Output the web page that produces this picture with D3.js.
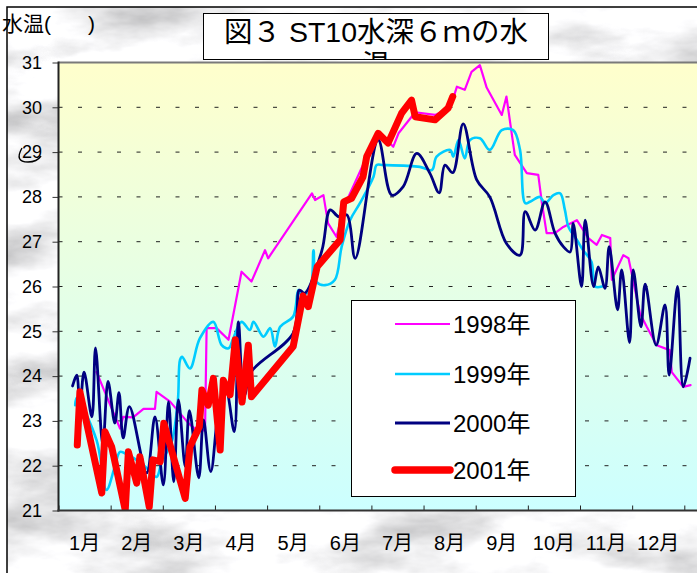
<!DOCTYPE html>
<html>
<head>
<meta charset="utf-8">
<script src="https://cdn.jsdelivr.net/npm/d3@7"></script>
<style>
  body { margin: 0; background: #fff; }
  svg { display: block; font-family: "Liberation Sans", "Noto Sans CJK JP", sans-serif; }
</style>
</head>
<body>
<div class="div-chart"></div>
<script>
// category labels and axis ticks
const months = ["1月", "2月", "3月", "4月", "5月", "6月", "7月", "8月", "9月", "10月", "11月", "12月"];
const yTicks = [21, 22, 23, 24, 25, 26, 27, 28, 29, 30, 31];
const years = ["1998年", "1999年", "2000年", "2001年"];

// [month position (0 = start of Jan), water temperature]
const s1998 = [[0.73,24.09],[1.18,22.83],[1.24,23.09],[1.43,23.08],[1.63,23.27],[1.85,23.27],[1.88,23.65],[2.14,23.43],[2.49,22.95],[2.68,22.76],[2.81,22.80],[2.84,25.07],[3.03,25.07],[3.26,24.81],[3.51,26.33],[3.70,26.11],[3.96,26.81],[4.02,26.63],[4.86,28.08],[4.92,27.93],[5.08,28.04],[5.17,27.41],[5.33,27.11],[5.49,27.82],[5.88,28.82],[6.12,29.38],[6.29,29.27],[6.42,29.12],[6.52,29.42],[6.84,29.89],[7.22,29.83],[7.51,29.98],[7.64,30.46],[7.79,30.39],[7.92,30.79],[8.08,30.94],[8.21,30.44],[8.50,29.83],[8.59,30.24],[8.69,29.42],[8.75,28.94],[8.98,28.53],[9.20,28.49],[9.27,27.86],[9.36,27.19],[9.52,27.19],[9.68,27.33],[9.94,27.48],[10.16,27.08],[10.32,26.93],[10.42,27.15],[10.58,27.08],[10.61,26.15],[10.83,26.70],[10.93,26.63],[11.15,25.40],[11.28,25.10],[11.47,24.69],[11.72,24.58],[11.76,24.09],[11.98,23.76],[12.12,23.80]];
const s1999 = [[0.32,23.35],[0.35,23.51],[0.73,22.57],[0.92,21.46],[1.08,21.98],[1.18,22.31],[1.33,22.24],[1.56,22.08],[1.69,21.95],[1.88,21.75],[1.98,22.09],[2.10,22.35],[2.18,22.57],[2.29,23.47],[2.33,24.36],[2.37,24.43],[2.52,24.17],[2.71,24.84],[2.97,25.21],[3.13,24.69],[3.26,24.62],[3.35,24.84],[3.51,25.21],[3.67,25.03],[3.74,25.21],[3.93,24.88],[4.06,25.07],[4.15,24.66],[4.25,25.10],[4.50,25.33],[4.60,25.92],[4.66,25.81],[4.82,25.92],[4.89,26.81],[4.95,26.10],[5.11,26.03],[5.30,26.15],[5.43,26.89],[5.59,27.48],[5.78,27.86],[6.04,28.45],[6.10,28.71],[6.23,28.71],[6.93,28.67],[7.16,28.60],[7.25,28.90],[7.51,29.05],[7.57,28.90],[7.67,29.27],[7.79,28.86],[7.89,29.27],[8.08,29.31],[8.27,29.05],[8.50,29.49],[8.72,29.49],[8.85,29.05],[8.95,27.86],[9.04,27.89],[9.23,28.00],[9.33,27.86],[9.49,28.04],[9.62,28.08],[9.71,27.71],[9.78,27.33],[9.94,27.04],[10.06,26.81],[10.22,26.55],[10.29,26.00],[10.42,26.00]];
const s2000 = [[0.27,23.78],[0.35,24.02],[0.41,23.24],[0.49,24.09],[0.64,23.09],[0.71,24.63],[0.85,22.46],[0.95,23.88],[1.08,22.95],[1.16,23.63],[1.24,22.62],[1.36,23.32],[1.69,21.84],[1.85,23.09],[2.01,21.57],[2.11,23.43],[2.21,21.64],[2.30,23.47],[2.43,21.98],[2.51,23.23],[2.69,21.73],[2.78,23.02],[2.92,21.87],[3.10,23.47],[3.21,23.69],[3.37,22.76],[3.45,25.21],[3.56,23.56],[3.70,24.10],[4.50,24.96],[4.62,25.92],[4.72,25.85],[5.05,26.80],[5.21,27.71],[5.37,27.56],[5.53,27.60],[5.69,26.63],[6.13,29.27],[6.39,28.04],[6.61,28.23],[6.87,28.97],[7.12,28.53],[7.30,28.09],[7.41,28.71],[7.56,28.54],[7.76,29.63],[8.02,28.38],[8.27,28.00],[8.59,26.96],[8.85,26.70],[8.95,27.67],[9.14,27.26],[9.33,27.89],[9.52,27.19],[9.68,26.89],[9.81,26.77],[9.87,27.41],[10.03,26.00],[10.10,27.48],[10.26,26.00],[10.35,26.44],[10.48,25.96],[10.56,26.89],[10.72,25.48],[10.80,26.37],[10.95,24.75],[11.02,26.37],[11.17,25.10],[11.25,26.05],[11.46,24.69],[11.63,25.59],[11.71,24.02],[11.87,26.00],[11.98,23.76],[12.11,24.40]];
const s2001 = [[0.36,22.46],[0.41,23.65],[0.83,21.39],[0.89,22.76],[1.02,22.42],[1.28,21.01],[1.34,22.31],[1.50,21.61],[1.56,22.20],[1.74,21.08],[1.81,22.13],[1.95,22.09],[2.02,22.95],[2.43,21.27],[2.52,22.42],[2.70,22.87],[2.75,23.69],[2.87,23.35],[2.97,23.95],[3.10,22.35],[3.16,23.91],[3.29,23.58],[3.39,24.81],[3.52,23.42],[3.64,24.69],[3.70,23.54],[4.50,24.66],[4.69,25.79],[4.79,25.55],[4.96,26.44],[5.40,27.04],[5.47,27.89],[5.62,27.97],[5.84,28.45],[5.91,28.90],[6.13,29.42],[6.32,29.20],[6.58,29.87],[6.77,30.16],[6.84,29.79],[7.22,29.72],[7.47,29.98],[7.56,30.24]];

const width = 697,
  height = 573;

const plot = { left: 58.5, top: 62.5, bottom: 510.5, monthEnd: 684.3 };
const fontMain = "Liberation Sans, Noto Sans CJK JP, sans-serif";

const svg = d3
  .select(".div-chart")
  .append("svg")
  .attr("width", width)
  .attr("height", height);

const defs = svg.append("defs");

// grey marble texture behind the chart
const marble = defs
  .append("filter")
  .attr("id", "marble")
  .attr("x", 0).attr("y", 0).attr("width", "100%").attr("height", "100%");
marble
  .append("feTurbulence")
  .attr("type", "fractalNoise")
  .attr("baseFrequency", "0.009 0.022")
  .attr("numOctaves", 5)
  .attr("seed", 11);
marble
  .append("feColorMatrix")
  .attr("type", "matrix")
  .attr("values", "1.0 0 0 0 0.40  1.0 0 0 0 0.40  1.0 0 0 0 0.41  0 0 0 0 1");

const grad = defs
  .append("linearGradient")
  .attr("id", "plot-bg")
  .attr("x1", 0).attr("y1", 0).attr("x2", 0).attr("y2", 1);
grad.append("stop").attr("offset", "0%").attr("stop-color", "#FFFFCC");
grad.append("stop").attr("offset", "100%").attr("stop-color", "#CCFFFF");

defs.append("clipPath").attr("id", "plot-clip")
  .append("rect")
  .attr("x", plot.left).attr("y", plot.top - 4)
  .attr("width", width).attr("height", plot.bottom - plot.top + 4);

defs.append("clipPath").attr("id", "title-clip")
  .append("rect")
  .attr("x", 203.5).attr("y", 13.5).attr("width", 345).attr("height", 46);

svg.append("rect")
  .attr("x", 7).attr("y", 7)
  .attr("width", 720).attr("height", 600)
  .attr("filter", "url(#marble)");
svg.append("rect")
  .attr("x", 7).attr("y", 7)
  .attr("width", 720).attr("height", 600)
  .attr("fill", "none")
  .attr("stroke", "#000")
  .attr("stroke-width", 1.5);

// scales
const x = d3.scaleLinear().domain([0, 12]).range([plot.left, plot.monthEnd]);
const xBand = d3.scaleBand().domain(months).range([plot.left, plot.monthEnd]);
const y = d3.scaleLinear().domain([21, 31]).range([plot.bottom, plot.top]);

// plot area
svg.append("rect")
  .attr("x", plot.left).attr("y", plot.top)
  .attr("width", width - plot.left + 10)
  .attr("height", plot.bottom - plot.top)
  .attr("fill", "url(#plot-bg)");

// dashed grid
svg.append("g")
  .selectAll("line")
  .data(yTicks.filter((t) => t > 21 && t < 31))
  .join("line")
  .attr("x1", plot.left).attr("x2", width)
  .attr("y1", (d) => y(d)).attr("y2", (d) => y(d))
  .attr("stroke", "#222")
  .attr("stroke-width", 1)
  .attr("stroke-dasharray", "4,15.5");

// top border of the plot
svg.append("line")
  .attr("x1", plot.left).attr("x2", width)
  .attr("y1", plot.top).attr("y2", plot.top)
  .attr("stroke", "#7a7a7a").attr("stroke-width", 2);

// series
const seriesData = [s1998, s1999, s2000, s2001];
const seriesStyle = [
  { color: "#FF00FF", width: 2.2, curve: d3.curveLinear },
  { color: "#00CCFF", width: 2.6, curve: d3.curveCatmullRom.alpha(0.5) },
  { color: "#000080", width: 2.8, curve: d3.curveCatmullRom.alpha(0.5) },
  { color: "#FF0000", width: 7, curve: d3.curveLinear },
];

const linesG = svg.append("g").attr("clip-path", "url(#plot-clip)");
seriesData.forEach((data, i) => {
  const line = d3.line()
    .x((d) => x(d[0]))
    .y((d) => y(d[1]))
    .curve(seriesStyle[i].curve);
  linesG.append("path")
    .datum(data)
    .attr("d", line)
    .attr("fill", "none")
    .attr("stroke", seriesStyle[i].color)
    .attr("stroke-width", seriesStyle[i].width)
    .attr("stroke-linejoin", "round")
    .attr("stroke-linecap", "round");
});

// y axis
const yAxis = svg.append("g")
  .attr("transform", `translate(${plot.left},0)`)
  .call(d3.axisLeft(y).tickValues(yTicks).tickSize(6).tickPadding(10.5));
yAxis.select(".domain").remove();
yAxis.selectAll("line").attr("stroke", "#333");
yAxis.selectAll("text").attr("font-size", 18).attr("fill", "#000")
  .attr("font-family", fontMain);
svg.append("line")
  .attr("x1", plot.left).attr("x2", plot.left)
  .attr("y1", plot.top - 1).attr("y2", plot.bottom + 1)
  .attr("stroke", "#222").attr("stroke-width", 2);

// x axis: ticks between months, labels in the middle
const xTicks = svg.append("g")
  .attr("transform", `translate(0,${plot.bottom})`)
  .call(d3.axisBottom(x).tickValues(d3.range(0, 13)).tickSize(-5).tickFormat(""));
xTicks.select(".domain").remove();
xTicks.selectAll("line").attr("stroke", "#222");
svg.append("line")
  .attr("x1", plot.left - 1).attr("x2", width)
  .attr("y1", plot.bottom).attr("y2", plot.bottom)
  .attr("stroke", "#333").attr("stroke-width", 2);

const xLabels = svg.append("g")
  .attr("transform", `translate(0,${plot.bottom})`)
  .call(d3.axisBottom(xBand).tickSize(0).tickPadding(25));
xLabels.select(".domain").remove();
xLabels.selectAll("text")
  .attr("font-size", 20)
  .attr("font-family", fontMain)
  .attr("fill", "#000");

// axis title (degree sign lost in the original)
svg.append("text")
  .attr("x", 2).attr("y", 31)
  .attr("font-size", 21)
  .text("水温(");
svg.append("text")
  .attr("x", 88).attr("y", 31)
  .attr("font-size", 21)
  .text(")");
svg.append("path")
  .attr("d", "M22,148 Q14,162 28,162 Q37,162 41,156")
  .attr("fill", "none").attr("stroke", "#000").attr("stroke-width", 1.4);

// title box
svg.append("rect")
  .attr("x", 203.5).attr("y", 13.5)
  .attr("width", 345).attr("height", 46)
  .attr("fill", "#fff").attr("stroke", "#000").attr("stroke-width", 1);
const titleG = svg.append("g").attr("clip-path", "url(#title-clip)");
titleG.append("text")
  .attr("x", 376).attr("y", 41.5)
  .attr("text-anchor", "middle")
  .attr("font-size", 28.5)
  .text("図３ ST10水深６ｍの水");
titleG.append("text")
  .attr("x", 376).attr("y", 75)
  .attr("text-anchor", "middle")
  .attr("font-size", 28.5)
  .text("温");

// legend
const legend = svg.append("g");
legend.append("rect")
  .attr("x", 351.5).attr("y", 300.5)
  .attr("width", 224).attr("height", 196)
  .attr("fill", "#fff").attr("stroke", "#000").attr("stroke-width", 1);
const legendY = [324, 374, 423, 470];
years.forEach((name, i) => {
  legend.append("line")
    .attr("x1", 395).attr("x2", 450)
    .attr("y1", legendY[i]).attr("y2", legendY[i])
    .attr("stroke", seriesStyle[i].color)
    .attr("stroke-width", i === 3 ? 7.5 : seriesStyle[i].width)
    .attr("stroke-linecap", i === 3 ? "round" : "butt");
  legend.append("text")
    .attr("x", 453).attr("y", legendY[i] + 9)
    .attr("font-size", 24)
    .text(name);
});
</script>
</body>
</html>
